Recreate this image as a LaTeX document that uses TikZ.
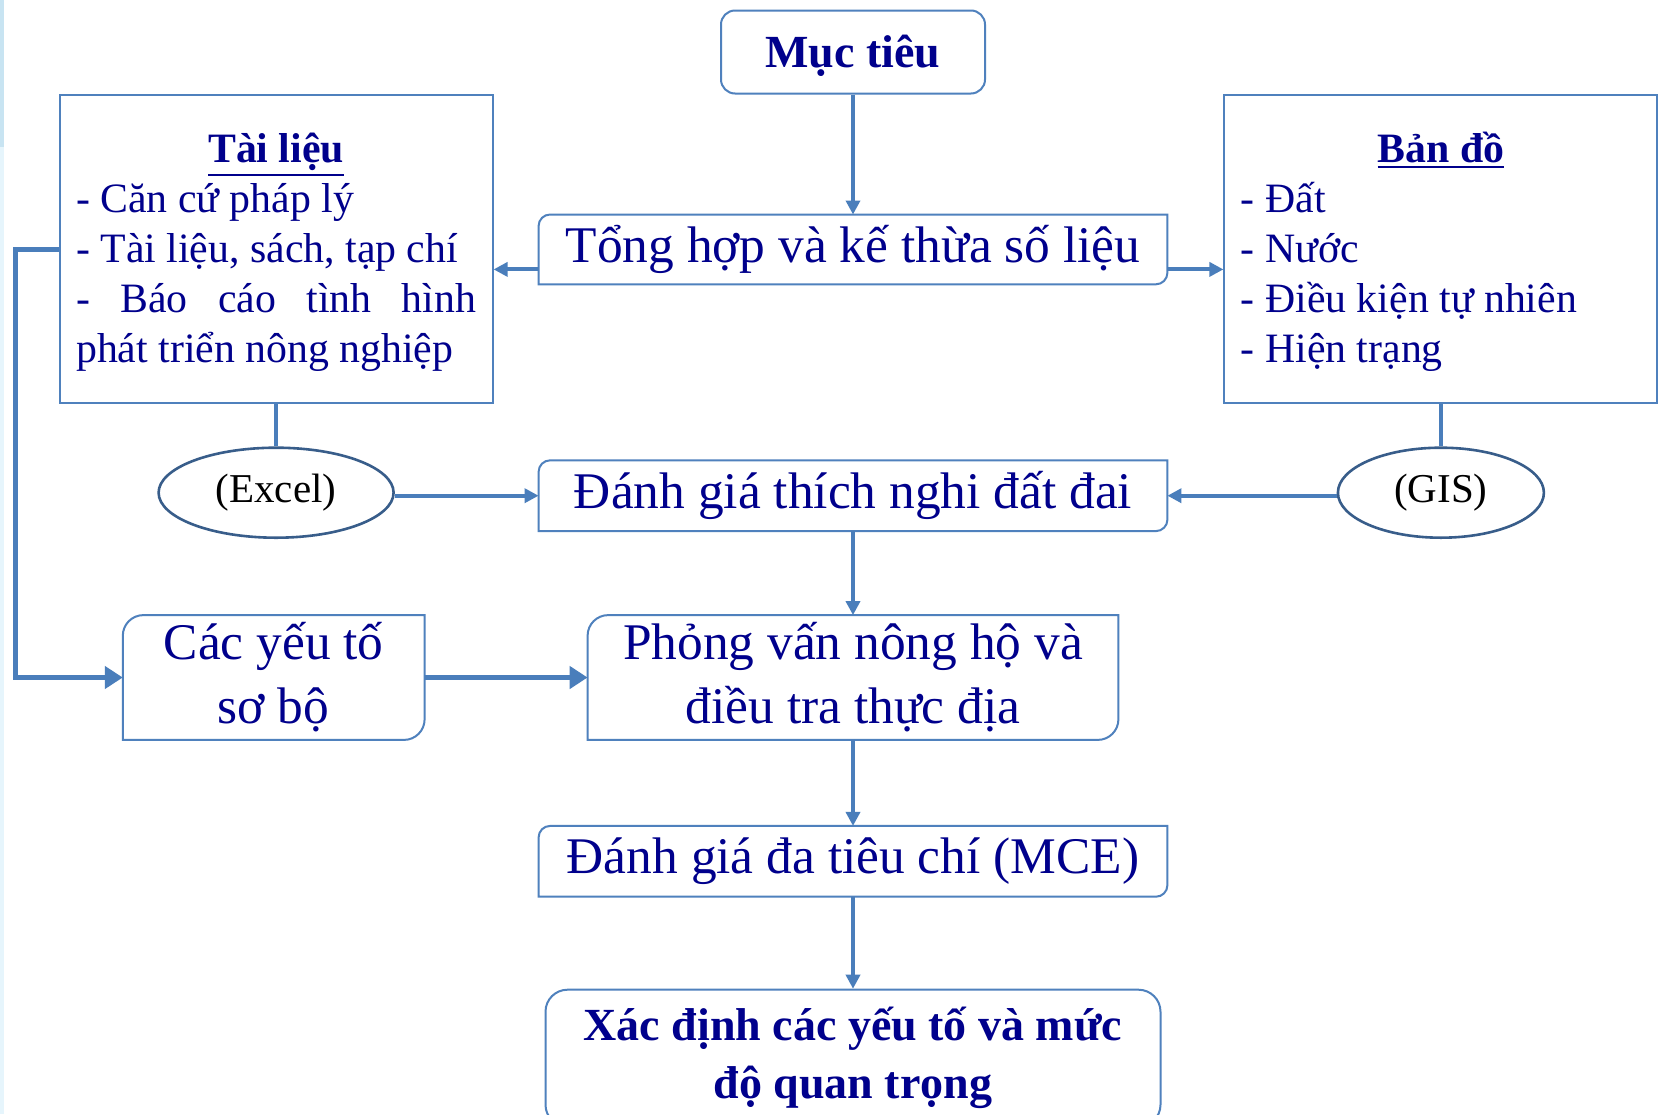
\documentclass[tikz,border=0pt]{standalone}
\usepackage{fontspec}
\setmainfont{Liberation Serif}
\usetikzlibrary{positioning,arrows.meta,shapes.geometric}

\definecolor{ink}{RGB}{0,0,140}
\definecolor{linkblue}{RGB}{74,126,187}
\definecolor{rimblue}{RGB}{79,129,189}
\definecolor{ovalblue}{RGB}{56,93,138}
\definecolor{stripA}{RGB}{200,228,242}
\definecolor{stripB}{RGB}{230,245,252}

% bold heading with a thick underline
\newcommand{\ulhead}[1]{\leavevmode\vtop{\hbox{\rule{0pt}{18pt}\textbf{#1}}\kern1.2pt\hrule height1.3pt}}
\frenchspacing

\begin{document}
\begin{tikzpicture}[
    x=0.5pt, y=-0.5pt,
    font=\fontsize{25.7}{32}\selectfont,
    >={Triangle[length=7pt,width=7pt]},
    node distance=40pt,
    plain/.style={text=ink, align=center, inner sep=0pt},
    goalbox/.style={plain, draw=rimblue, line width=1pt,
                    font=\bfseries\fontsize{23}{29}\selectfont},
    listbox/.style={draw=rimblue, line width=1pt, text=ink, align=left,
                    inner xsep=8.25pt, minimum width=216.5pt, minimum height=154pt,
                    font=\fontsize{20.9}{25}\selectfont},
    oval/.style={ellipse, draw=ovalblue, line width=1.3pt, inner sep=0pt,
                 minimum height=45pt, font=\fontsize{20.5}{25}\selectfont},
    frame/.style={draw=rimblue, line width=1pt},
    link/.style={draw=linkblue, line width=2pt},
    flow/.style={->, link},
    bigflow/.style={-{Triangle[length=9pt,width=11pt]}, draw=linkblue, line width=2.8pt},
]
\useasboundingbox (0,0) rectangle (1675,1114);
\fill[white] (0,0) rectangle (1675,1114);
\clip (0,0) rectangle (1675,1114);
\fill[stripA] (0,0) rectangle (4,147);
\fill[stripB] (0,147) rectangle (4,1114);

% ---- Main column --------------------------------------------------
\node[goalbox, rounded corners=7pt, minimum width=132pt, minimum height=41.5pt, text depth=1pt] (goal) at (853,52) {Mục tiêu};
\node[plain, minimum width=314pt, minimum height=34.5pt, below=60pt of goal] (merge) {Tổng hợp và kế thừa số liệu};
\node[plain, minimum width=314pt, minimum height=35pt, below=88pt of merge] (suit) {Đánh giá thích nghi đất đai};
\node[plain, minimum width=265pt, minimum height=62pt, below=42pt of suit] (survey) {Phỏng vấn nông hộ và\\điều tra thực địa};
\node[plain, minimum width=314pt, minimum height=35pt, below=43pt of survey] (mce) {Đánh giá đa tiêu chí (MCE)};
\node[goalbox, rounded corners=11pt, minimum width=307.5pt, minimum height=68.5pt, below=46pt of mce] (final) {Xác định các yếu tố và mức\\độ quan trọng};

% ---- Sources ------------------------------------------------------
\node[listbox, left=22.5pt of merge] (docs) {\makebox[200pt]{\ulhead{Tài liệu}}\\
- Căn cứ pháp lý\\
- Tài liệu, sách, tạp chí\\
\makebox[200pt][s]{- Báo cáo tình hình}\\
phát triển nông nghiệp};
\node[listbox, right=28pt of merge] (maps) {\makebox[200pt]{\ulhead{Bản đồ}}\\
- Đất\\
- Nước\\
- Điều kiện tự nhiên\\
- Hiện trạng};

\node[oval, minimum width=117.5pt, below=21pt of docs] (excel) {(Excel)};
\node[oval, minimum width=103pt, below=21pt of maps] (gis) {(GIS)};
\node[plain, minimum width=150.5pt, minimum height=62pt, left=81.5pt of survey] (prelim) {Các yếu tố\\sơ bộ};

% ---- Box outlines (round diagonal corners) ------------------------
\foreach \n/\r in {merge/5.75pt, suit/5.75pt, survey/10.3pt, prelim/10.3pt, mce/5.75pt}
  \draw[frame] ([xshift=\r]\n.north west) -- (\n.north east) -- ([yshift=\r]\n.south east)
     arc[start angle=0, end angle=-90, radius=\r] -- (\n.south west) -- ([yshift=-\r]\n.north west)
     arc[start angle=180, end angle=90, radius=\r] -- cycle;

% ---- Edges --------------------------------------------------------
\coordinate (mergeL) at ([yshift=-10pt]merge.west);
\coordinate (mergeR) at ([yshift=-10pt]merge.east);

\draw[flow] (goal) -- (merge);
\draw[flow] (mergeL) -- (mergeL -| docs.east);
\draw[flow] (mergeR) -- (mergeR -| maps.west);
\draw[link] (docs) -- (excel);
\draw[link] (maps) -- (gis);
\draw[flow] (excel.east |- suit.west) -- (suit.west);
\draw[flow] (gis.west |- suit.east) -- (suit.east);
\draw[flow] (suit) -- (survey);
\draw[flow] (survey) -- (mce);
\draw[flow] (mce) -- (final);

\draw[bigflow] (docs.west) -- ++(-21.5pt,0) |- (prelim.west);
\draw[bigflow] (prelim) -- (survey);

\end{tikzpicture}
\end{document}
